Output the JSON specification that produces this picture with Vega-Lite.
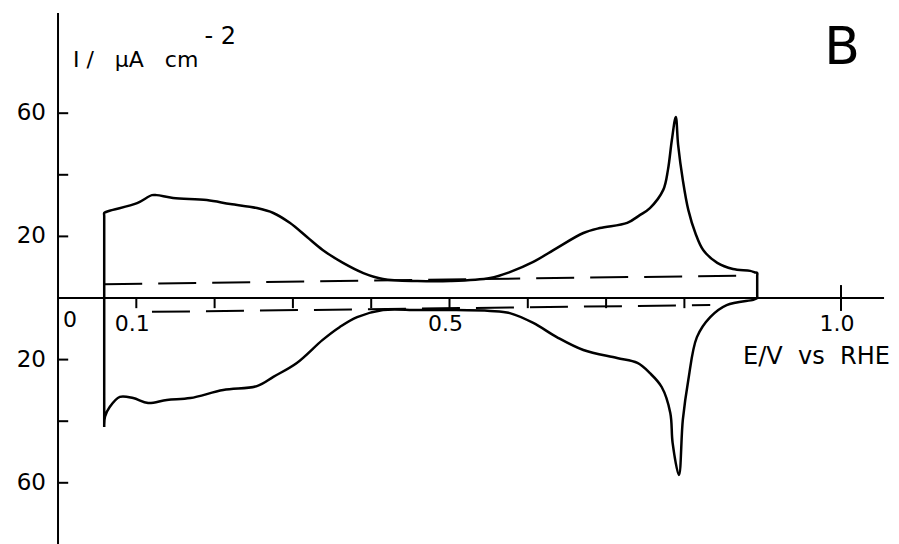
{
  "$schema": "https://vega.github.io/schema/vega-lite/v6.json",
  "width": 899,
  "height": 544,
  "autosize": {"type": "none"},
  "padding": 0,
  "background": "white",
  "config": {"view": {"stroke": null}, "font": "DejaVu Sans"},
  "datasets": {
    "cv": [
      {"i": 1, "E": 0.059, "I": -41.9},
      {"i": 1.5, "E": 0.059, "I": -40.5},
      {"i": 1.8, "E": 0.059, "I": 26.6},
      {"i": 2, "E": 0.059, "I": 27.6},
      {"i": 2.5, "E": 0.062, "I": 28.0},
      {"i": 3, "E": 0.070, "I": 28.6},
      {"i": 4, "E": 0.101, "I": 30.8},
      {"i": 5, "E": 0.120, "I": 33.4},
      {"i": 6, "E": 0.126, "I": 33.4},
      {"i": 7, "E": 0.147, "I": 32.5},
      {"i": 8, "E": 0.190, "I": 31.8},
      {"i": 9, "E": 0.220, "I": 30.5},
      {"i": 10, "E": 0.254, "I": 29.2},
      {"i": 11, "E": 0.275, "I": 27.6},
      {"i": 12, "E": 0.296, "I": 24.4},
      {"i": 13, "E": 0.318, "I": 19.8},
      {"i": 14, "E": 0.338, "I": 15.6},
      {"i": 15, "E": 0.364, "I": 11.4},
      {"i": 16, "E": 0.390, "I": 8.1},
      {"i": 17, "E": 0.415, "I": 6.2},
      {"i": 18, "E": 0.459, "I": 5.5},
      {"i": 19, "E": 0.501, "I": 5.5},
      {"i": 20, "E": 0.552, "I": 6.5},
      {"i": 21, "E": 0.577, "I": 8.4},
      {"i": 22, "E": 0.607, "I": 11.7},
      {"i": 23, "E": 0.637, "I": 16.2},
      {"i": 24, "E": 0.671, "I": 21.1},
      {"i": 25, "E": 0.692, "I": 22.7},
      {"i": 26, "E": 0.727, "I": 24.4},
      {"i": 27, "E": 0.743, "I": 26.9},
      {"i": 28, "E": 0.756, "I": 29.2},
      {"i": 29, "E": 0.773, "I": 35.1},
      {"i": 30, "E": 0.779, "I": 41.6},
      {"i": 31, "E": 0.784, "I": 51.3},
      {"i": 32, "E": 0.789, "I": 58.8},
      {"i": 33, "E": 0.792, "I": 49.7},
      {"i": 34, "E": 0.798, "I": 38.3},
      {"i": 35, "E": 0.805, "I": 28.6},
      {"i": 36, "E": 0.814, "I": 21.1},
      {"i": 37, "E": 0.824, "I": 15.6},
      {"i": 38, "E": 0.842, "I": 11.4},
      {"i": 39, "E": 0.862, "I": 9.4},
      {"i": 40, "E": 0.884, "I": 8.8},
      {"i": 40.5, "E": 0.890, "I": 8.3},
      {"i": 41, "E": 0.893, "I": 8.1},
      {"i": 41.5, "E": 0.893, "I": 7.2},
      {"i": 41.8, "E": 0.893, "I": 0.8},
      {"i": 42, "E": 0.893, "I": 0.0},
      {"i": 42.5, "E": 0.891, "I": -0.3},
      {"i": 43, "E": 0.888, "I": -0.6},
      {"i": 44, "E": 0.854, "I": -2.3},
      {"i": 45, "E": 0.833, "I": -6.2},
      {"i": 46, "E": 0.816, "I": -12.7},
      {"i": 47, "E": 0.805, "I": -26.6},
      {"i": 48, "E": 0.798, "I": -39.6},
      {"i": 49, "E": 0.793, "I": -57.5},
      {"i": 50, "E": 0.785, "I": -47.1},
      {"i": 51, "E": 0.782, "I": -37.3},
      {"i": 52, "E": 0.771, "I": -28.9},
      {"i": 53, "E": 0.756, "I": -24.4},
      {"i": 54, "E": 0.740, "I": -21.1},
      {"i": 55, "E": 0.714, "I": -19.5},
      {"i": 56, "E": 0.671, "I": -16.9},
      {"i": 57, "E": 0.637, "I": -12.7},
      {"i": 58, "E": 0.607, "I": -8.1},
      {"i": 59, "E": 0.577, "I": -4.9},
      {"i": 60, "E": 0.552, "I": -4.2},
      {"i": 61, "E": 0.501, "I": -3.9},
      {"i": 62, "E": 0.459, "I": -3.9},
      {"i": 63, "E": 0.415, "I": -3.9},
      {"i": 64, "E": 0.382, "I": -6.2},
      {"i": 65, "E": 0.360, "I": -9.4},
      {"i": 66, "E": 0.338, "I": -13.6},
      {"i": 67, "E": 0.305, "I": -21.1},
      {"i": 68, "E": 0.275, "I": -25.6},
      {"i": 69, "E": 0.254, "I": -28.6},
      {"i": 70, "E": 0.211, "I": -29.9},
      {"i": 71, "E": 0.169, "I": -32.5},
      {"i": 72, "E": 0.139, "I": -33.1},
      {"i": 73, "E": 0.115, "I": -34.1},
      {"i": 74, "E": 0.096, "I": -32.5},
      {"i": 75, "E": 0.079, "I": -32.1},
      {"i": 76, "E": 0.066, "I": -35.4},
      {"i": 77, "E": 0.060, "I": -38.5},
      {"i": 78, "E": 0.059, "I": -41.9}
    ],
    "baselines": [
      {"seg": "anodic", "E": 0.059, "I": 4.5},
      {"seg": "anodic", "E": 0.880, "I": 7.3},
      {"seg": "cathodic", "E": 0.120, "I": -4.5},
      {"seg": "cathodic", "E": 0.833, "I": -2.3}
    ],
    "frame": [
      {"E": 0, "E2": 1.055, "I": 0, "I2": 0},
      {"E": 0, "E2": 0, "I": 92.5, "I2": -80},
      {"E": 0.1, "E2": 0.1, "I": 0, "I2": -3.3},
      {"E": 0.2, "E2": 0.2, "I": 0, "I2": -3.3},
      {"E": 0.3, "E2": 0.3, "I": 0, "I2": -3.3},
      {"E": 0.4, "E2": 0.4, "I": 0, "I2": -3.3},
      {"E": 0.5, "E2": 0.5, "I": 0, "I2": -3.3},
      {"E": 0.6, "E2": 0.6, "I": 0, "I2": -3.3},
      {"E": 0.7, "E2": 0.7, "I": 0, "I2": -3.3},
      {"E": 0.8, "E2": 0.8, "I": 0, "I2": -3.3},
      {"E": 1.0, "E2": 1.0, "I": 4.2, "I2": -4.2},
      {"E": 0, "E2": 0.013, "I": 60, "I2": 60},
      {"E": 0, "E2": 0.013, "I": 40, "I2": 40},
      {"E": 0, "E2": 0.013, "I": 20, "I2": 20},
      {"E": 0, "E2": 0.013, "I": -20, "I2": -20},
      {"E": 0, "E2": 0.013, "I": -40, "I2": -40},
      {"E": 0, "E2": 0.013, "I": -60, "I2": -60}
    ],
    "ylabels": [
      {"E": 0, "I": 60, "t": "60"},
      {"E": 0, "I": 20, "t": "20"},
      {"E": 0, "I": -20, "t": "20"},
      {"E": 0, "I": -60, "t": "60"}
    ],
    "xlabels": [
      {"E": 0.1, "I": 0, "t": "0.1"},
      {"E": 0.5, "I": 0, "t": "0.5"},
      {"E": 1.0, "I": 0, "t": "1.0"}
    ]
  },
  "encoding": {
    "x": {"field": "E", "type": "quantitative", "axis": null,
          "scale": {"domain": [-0.0741, 1.0741], "nice": false, "zero": false}},
    "y": {"field": "I", "type": "quantitative", "axis": null,
          "scale": {"domain": [-79.87, 96.75], "nice": false, "zero": false}}
  },
  "layer": [
    {
      "data": {"name": "frame"},
      "mark": {"type": "rule", "color": "black", "strokeWidth": 2},
      "encoding": {
        "x2": {"field": "E2"},
        "y2": {"field": "I2"}
      }
    },
    {
      "data": {"name": "baselines"},
      "mark": {"type": "line", "color": "black", "strokeWidth": 2, "strokeDash": [38, 16]},
      "encoding": {
        "detail": {"field": "seg"}
      }
    },
    {
      "data": {"name": "cv"},
      "mark": {"type": "line", "color": "black", "strokeWidth": 2.5, "strokeJoin": "round", "interpolate": "catmull-rom"},
      "encoding": {
        "order": {"field": "i", "type": "quantitative"}
      }
    },
    {
      "data": {"name": "ylabels"},
      "mark": {"type": "text", "align": "right", "baseline": "middle", "dx": -12, "fontSize": 23, "color": "black"},
      "encoding": {
        "text": {"field": "t"}
      }
    },
    {
      "data": {"name": "xlabels"},
      "mark": {"type": "text", "align": "center", "baseline": "middle", "dy": 26, "dx": -4, "fontSize": 22, "color": "black"},
      "encoding": {
        "text": {"field": "t"}
      }
    },
    {
      "data": {"values": [{"E": 0, "I": 0, "t": "0"}]},
      "mark": {"type": "text", "align": "center", "baseline": "middle", "dy": 22, "dx": 12, "fontSize": 22, "color": "black"},
      "encoding": {
        "text": {"field": "t"}
      }
    },
    {
      "data": {"values": [{"E": 0.019, "I": 77.3, "t": "I\u00a0/\u00a0\u00a0\u00a0µA\u00a0\u00a0\u00a0cm"}]},
      "mark": {"type": "text", "align": "left", "baseline": "middle", "fontSize": 22, "color": "black"},
      "encoding": {
        "text": {"field": "t"}
      }
    },
    {
      "data": {"values": [{"E": 0.187, "I": 84.7, "t": "-\u00a02"}]},
      "mark": {"type": "text", "align": "left", "baseline": "middle", "fontSize": 24, "color": "black"},
      "encoding": {
        "text": {"field": "t"}
      }
    },
    {
      "data": {"values": [{"E": 0.875, "I": -19.2, "t": "E/V\u00a0\u00a0vs\u00a0\u00a0RHE"}]},
      "mark": {"type": "text", "align": "left", "baseline": "middle", "fontSize": 24, "color": "black"},
      "encoding": {
        "text": {"field": "t"}
      }
    },
    {
      "data": {"values": [{"E": 1.0013, "I": 81.3, "t": "B"}]},
      "mark": {"type": "text", "align": "center", "baseline": "middle", "fontSize": 52, "color": "black"},
      "encoding": {
        "text": {"field": "t"}
      }
    }
  ]
}
